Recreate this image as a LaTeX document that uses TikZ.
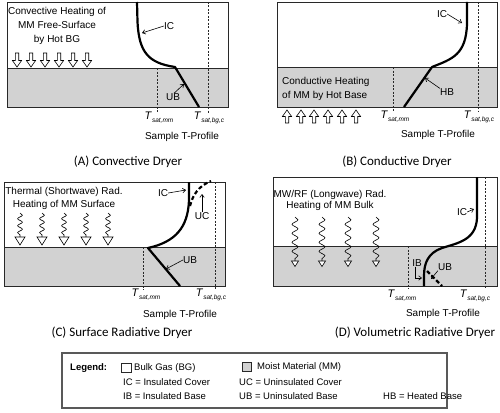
\documentclass[tikz,border=0pt]{standalone}
\usepackage{fontspec}
\setmainfont{Liberation Sans}
\newfontfamily\capfont{Carlito}
\usetikzlibrary{arrows.meta,decorations.pathmorphing}
\definecolor{mmgray}{RGB}{210,210,210}
\definecolor{edge}{RGB}{40,40,40}
\newcommand{\Tlab}[1]{{\fontsize{11pt}{12pt}\selectfont\textit{T}}\raisebox{-0.3em}{\fontsize{6.5pt}{7pt}\selectfont\textit{#1}}}
\tikzset{
  every node/.style={font=\fontsize{10pt}{12pt}\selectfont, inner sep=0pt},
  legtext/.style={font=\fontsize{9.5pt}{11.5pt}\selectfont},
  frame/.style={draw=edge, line width=0.9pt},
  mm/.style={fill=mmgray},
  profile/.style={line width=2.2pt, line join=round},
  dashprofile/.style={line width=2.2pt, dash pattern=on 4pt off 2.5pt},
  satline/.style={line width=0.5pt, draw=edge, dash pattern=on 2pt off 1.5pt},
  lbl/.style={line width=0.6pt, -{Straight Barb[length=3pt,width=4.5pt]}},
  caption/.style={font=\capfont\fontsize{13pt}{15pt}\selectfont},
  legbox/.style={draw=edge, line width=0.6pt, minimum size=9.5pt},
  downarr/.pic={\draw[line width=0.6pt, fill=white] (-1.7,0) -- (-1.7,7.5) -- (-4.6,7.5) -- (0,14) -- (4.6,7.5) -- (1.7,7.5) -- (1.7,0) -- cycle;},
  uparr/.pic={\draw[line width=0.6pt, fill=white] (-1.7,0) -- (-1.7,-6.5) -- (-4.6,-6.5) -- (0,-13) -- (4.6,-6.5) -- (1.7,-6.5) -- (1.7,0) -- cycle;},
  swave/.pic={\draw[line width=0.6pt, decorate, decoration={snake, segment length=7pt, amplitude=2.4pt}] (0,0) -- (0,24);
              \draw[line width=0.6pt, fill=white] (-5,24) -- (5,24) -- (0,32) -- cycle;},
  lwave/.pic={\draw[line width=0.6pt, decorate, decoration={snake, segment length=9pt, amplitude=3pt}] (0,0) -- (0,44);
              \draw[line width=0.6pt, fill=white] (-3.5,44) -- (3.5,44) -- (0,49.5) -- cycle;}
}
\begin{document}
\begin{tikzpicture}[x=1pt,y=-1pt]
\path[use as bounding box, fill=white] (0,0) rectangle (500,412);

% ---------------- Panel A ----------------
\path[mm] (7,68) rectangle (228,107);
\draw[frame] (7,2) rectangle (228,107);
\draw[frame] (7,68) -- (228,68);
\node[align=center, font=\fontsize{10pt}{14pt}\selectfont] (aText) at (57,26) {Convective Heating of\\MM Free-Surface\\by Hot BG};
\foreach \x in {17,31,45,59,73,87} \pic at (\x,53) {downarr};
\draw[satline] (157,68) -- (157,113);
\draw[satline] (208,2) -- (208,113);
\draw[profile] (137,2) -- (137.5,22) .. controls (139,52) and (148,63) .. (175,67) -- (199,107);
\node (aIC) at (169,26) {IC};
\coordinate (aICtip) at (142,33);
\draw[lbl] (aIC.west) -- (aICtip);
\node (aUB) at (173,97) {UB};
\coordinate (aUBtip) at (184,84);
\draw[lbl] ([xshift=1pt]aUB.north) -- (aUBtip);
\node (aTmm) at (159,118) {\Tlab{sat,mm}};
\node (aTbg) at (209,118) {\Tlab{sat,bg,c}};
\node (aSample) at (182,137) {Sample T-Profile};
\node[caption] (aCap) at (128,162) {(A) Convective Dryer};

% ---------------- Panel B ----------------
\path[mm] (277,67) rectangle (497,107);
\draw[frame] (277,2) rectangle (497,107);
\draw[frame] (277,67) -- (497,67);
\node[align=left, anchor=west, font=\fontsize{10pt}{14pt}\selectfont] (bText) at (282,89) {Conductive Heating\\of MM by Hot Base};
\foreach \x in {287,301,314,328,342,356} \pic at (\x,123) {uparr};
\draw[satline] (393,67) -- (393,112);
\draw[satline] (478,2) -- (478,112);
\draw[profile] (467,2) -- (467,24) .. controls (466,55) and (452,59) .. (432,67) -- (404,107);
\node (bIC) at (442,14) {IC};
\coordinate (bICtip) at (462,23);
\draw[lbl] (bIC.east) -- (bICtip);
\node (bHB) at (447,92) {HB};
\coordinate (bHBtip) at (425,78);
\draw[lbl] (bHB.north west) -- (bHBtip);
\node (bTmm) at (395,117) {\Tlab{sat,mm}};
\node (bTbg) at (479,117) {\Tlab{sat,bg,c}};
\node (bSample) at (438,135) {Sample T-Profile};
\node[caption] (bCap) at (397,162) {(B) Conductive Dryer};

% ---------------- Panel C ----------------
\path[mm] (4,247) rectangle (225,286);
\draw[frame] (4,182) rectangle (225,286);
\draw[frame] (4,247) -- (225,247);
\node[align=center, font=\fontsize{10pt}{13pt}\selectfont] (cText) at (64,198.5) {Thermal (Shortwave) Rad.\\Heating of MM Surface};
\foreach \x in {20,42,64,86,108} \pic at (\x,213) {swave};
\draw[satline] (143,247) -- (143,290);
\draw[satline] (215,182) -- (215,290);
\draw[profile] (189,182) -- (189,200) .. controls (188,228) and (175,242) .. (148,248) -- (180,286);
\draw[dashprofile] (190,206) .. controls (193,194) and (199,186) .. (211,181);
\node (cIC) at (163,193) {IC};
\coordinate (cICtip) at (186,190);
\draw[lbl] (cIC.east) -- (cICtip);
\node (cUC) at (202,216) {UC};
\coordinate (cUCtip) at (202,194);
\draw[lbl] (cUC.north) -- (cUCtip);
\node (cUB) at (190,260) {UB};
\coordinate (cUBtip) at (166,269);
\draw[lbl] (cUB.west) -- (cUBtip);
\node (cTmm) at (146,295) {\Tlab{sat,mm}};
\node (cTbg) at (211,295) {\Tlab{sat,bg,c}};
\node (cSample) at (180,315) {Sample T-Profile};
\node[caption] (cCap) at (122,333) {(C) Surface Radiative Dryer};

% ---------------- Panel D ----------------
\path[mm] (273,246) rectangle (497,286);
\draw[frame] (273,177) rectangle (497,286);
\draw[frame] (273,246) -- (497,246);
\node[align=center, font=\fontsize{10pt}{11.5pt}\selectfont] (dText) at (330,200.5) {MW/RF (Longwave) Rad.\\Heating of MM Bulk};
\foreach \x in {295,322,348,376} \pic at (\x,217) {lwave};
\draw[satline] (408,246) -- (408,289);
\draw[satline] (485,177) -- (485,289);
\draw[profile] (477,177) -- (477,218) .. controls (476,240) and (458,243) .. (442,248) .. controls (428,253) and (424,263) .. (424,276) -- (424,286);
\draw[dashprofile] (427,271) -- (442,286);
\node (dIC) at (462,212) {IC};
\coordinate (dICtip) at (474,209);
\draw[lbl] (dIC.east) -- (dICtip);
\node (dIB) at (417,263) {IB};
\coordinate (dIBtip) at (422,278);
\draw[lbl] ([xshift=-2pt]dIB.south) |- (dIBtip);
\node (dUB) at (445,267) {UB};
\coordinate (dUBtip) at (431,279);
\draw[lbl] (dUB.south west) -- (dUBtip);
\node (dTmm) at (402,296) {\Tlab{sat,mm}};
\node (dTbg) at (475,296) {\Tlab{sat,bg,c}};
\node (dSample) at (443,314) {Sample T-Profile};
\node[caption] (dCap) at (415,333) {(D) Volumetric Radiative Dryer};

% ---------------- Legend ----------------
\draw[line width=1.2pt, draw=gray!70!black] (62,353) rectangle (447,408);
\node[anchor=west, font=\fontsize{9.5pt}{11.5pt}\selectfont\bfseries] (lgTitle) at (70,368) {Legend:};
\node[legbox, fill=white] (lgBG) at (126.5,368) {};
\node[legtext, anchor=west] (lgBGtext) at (134,368) {Bulk Gas (BG)};
\node[legtext, anchor=west] (lgIC) at (123,382) {IC = Insulated Cover};
\node[legtext, anchor=west] (lgIB) at (123,396) {IB = Insulated Base};
\node[legbox, fill=mmgray] (lgMM) at (247,367) {};
\node[legtext, anchor=west] (lgMMtext) at (257,367) {Moist Material (MM)};
\node[legtext, anchor=west] (lgUC) at (239,382) {UC = Uninsulated Cover};
\node[legtext, anchor=west] (lgUB) at (239,396) {UB = Uninsulated Base};
\node[legtext, anchor=west] (lgHB) at (383,396) {HB = Heated Base};
\end{tikzpicture}
\end{document}
